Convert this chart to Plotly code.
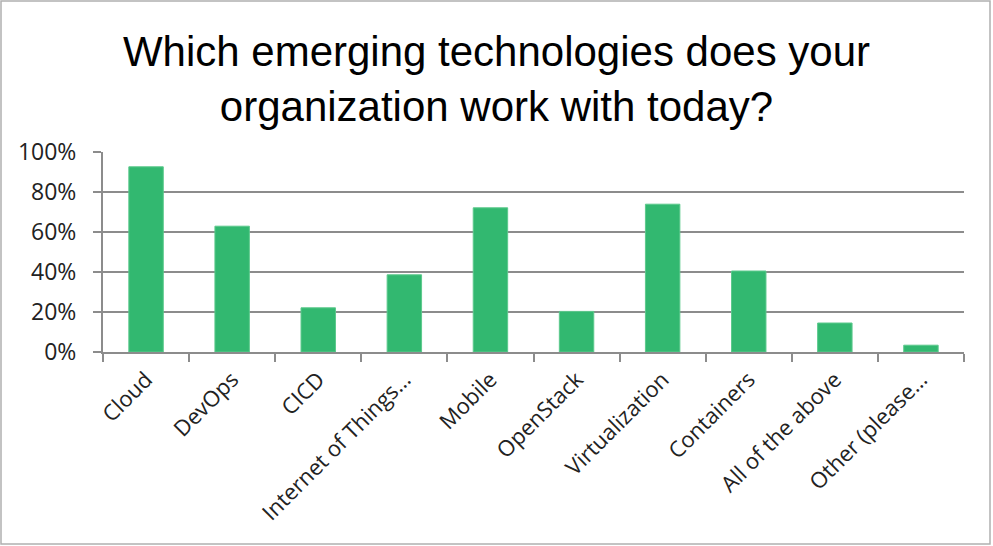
import plotly.graph_objects as go

categories = ["Cloud", "DevOps", "CICD", "Internet of Things…", "Mobile",
              "OpenStack", "Virtualization", "Containers", "All of the above",
              "Other (please…"]
share_pct = [92.6, 62.9, 22.1, 38.6, 72.1, 20.3, 73.9, 40.5, 14.5, 3.4]
y_ticks = [0, 20, 40, 60, 80, 100]

W, H = 993, 546
ML, MR, MT, MB = 103, 29, 152, 194
PW, PH = W - ML - MR, H - MT - MB

def px_x(px):
    return (px - ML) / PW

def px_y(py):
    return (H - MB - py) / PH

fig = go.Figure(
    go.Bar(
        x=categories,
        y=share_pct,
        marker=dict(color="#32B870", line=dict(color="#5cc98c", width=1)),
        hoverinfo="x+y",
    )
)

fig.update_layout(
    width=W,
    height=H,
    margin=dict(l=ML, r=MR, t=MT, b=MB),
    paper_bgcolor="white",
    plot_bgcolor="white",
    bargap=0.6,
    showlegend=False,
    title=dict(
        text="Which emerging technologies does your<br>organization work with today?",
        x=0.5,
        xref="container",
        xanchor="center",
        y=1 - 66 / H,
        yanchor="middle",
        font=dict(family="Liberation Sans, Arial, sans-serif", size=42, color="#000"),
    ),
    font=dict(family="Open Sans, sans-serif", color="#222"),
)

fig.update_xaxes(
    type="category",
    tickangle=-45,
    tickfont=dict(size=22, family="Open Sans, sans-serif", color="#222"),
    showline=True,
    linecolor="#8c8c8c",
    linewidth=2,
    ticks="outside",
    tickson="boundaries",
    ticklen=8,
    tickcolor="#8c8c8c",
    tickwidth=2,
    showgrid=False,
    ticklabelstandoff=4,
)

fig.update_yaxes(
    range=[0, 100],
    tickvals=y_ticks,
    ticktext=[f"{v}%" for v in y_ticks],
    tickfont=dict(size=23, family="Open Sans, sans-serif", color="#222"),
    showline=True,
    linecolor="#8c8c8c",
    linewidth=2,
    ticks="outside",
    ticklen=8,
    tickcolor="#8c8c8c",
    tickwidth=2,
    showgrid=True,
    gridcolor="#8c8c8c",
    gridwidth=1.5,
    zeroline=False,
    ticklabelstandoff=12,
)

# thin frame around the chart area
fig.add_shape(
    type="rect",
    xref="paper", yref="paper",
    x0=px_x(1), x1=px_x(990),
    y0=px_y(544), y1=px_y(1),
    line=dict(color="#b0b0b0", width=1.5),
    fillcolor="rgba(0,0,0,0)",
    layer="below",
)

fig.write_html("out.html")
